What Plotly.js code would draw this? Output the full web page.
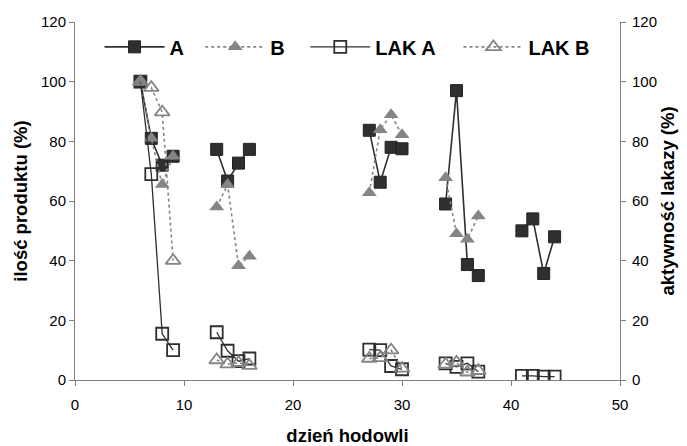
<!DOCTYPE html>
<html>
<head>
<meta charset="utf-8">
<script src="https://cdn.plot.ly/plotly-3.0.1.min.js"></script>
<style>html,body{margin:0;padding:0;background:#fff;}#chart{width:687px;height:446px;}</style>
</head>
<body>
<div id="chart"></div>
<script>
// days of culture; null separates independent runs
const days = [6,7,8,9,null,13,14,15,16,null,27,28,29,30,null,34,35,36,37,null,41,42,43,44];
const seriesA = [100,81,72,75,null,77.3,66.7,72.7,77.3,null,83.7,66.3,78,77.5,null,59,97,38.7,35,null,50,54,35.7,48];
const seriesB = [100,81,65.5,75,null,58,65.5,38.3,41.5,null,62.8,83.9,88.9,82.2,null,67.8,49,47.2,55,null,null,null,null,null];
const lakA = [100,69,15.5,10,null,16,9.8,6.3,7.2,null,10.2,10,4.7,3.6,null,5.6,4.4,5.6,2.8,null,1.4,1.4,1.1,1.1];
const lakB = [100,98,89.8,40,null,6.7,5.3,5.8,4.8,null,7.2,7.4,10,3.9,null,5.2,5.9,2.6,3.1,null,null,null,null,null];
const names = ['A','B','LAK A','LAK B'];
const tickVals = [0,20,40,60,80,100,120];
const xTickVals = [0,10,20,30,40,50];

const dark = '#2f2f2f', gray = '#858585';
const traces = [
  {x: days, y: seriesA, name: names[0], legend: 'legend', mode: 'lines+markers', connectgaps: false,
   line: {color: dark, width: 1.6}, marker: {symbol: 'square', size: 12, color: dark, line: {color: '#222', width: 1}}},
  {x: days, y: seriesB, name: names[1], legend: 'legend2', mode: 'lines+markers', connectgaps: false,
   line: {color: gray, width: 1.6, dash: 'dot'}, marker: {symbol: 'triangle-up', size: 13, color: gray, line: {color: gray, width: 0}}},
  {x: days, y: lakA, name: names[2], legend: 'legend3', mode: 'lines+markers', connectgaps: false, yaxis: 'y2',
   line: {color: dark, width: 1.3}, marker: {symbol: 'square-open', size: 12, color: dark, line: {color: dark, width: 1.8}}},
  {x: days, y: lakB, name: names[3], legend: 'legend4', mode: 'lines+markers', connectgaps: false, yaxis: 'y2',
   line: {color: gray, width: 1.6, dash: 'dot'}, marker: {symbol: 'triangle-up-open', size: 13, color: gray, line: {color: gray, width: 1.8}}}
];

const font = {family: 'Liberation Sans, Arial, sans-serif', color: '#000'};
const axisCommon = {showgrid: false, zeroline: false, showline: true, linecolor: '#808080', linewidth: 1,
  ticks: 'outside', ticklen: 5, tickcolor: '#808080', tickfont: {family: font.family, size: 15, color: '#000'}};
const titleFont = {family: font.family, size: 18.5, color: '#000', weight: 'bold'};
function mkLegend(x) {
  return {orientation: 'h', x: x, y: 0.985, xanchor: 'left', yanchor: 'top',
    itemwidth: 60, bgcolor: 'rgba(255,255,255,0)',
    font: {family: font.family, size: 20, color: '#000', weight: 'bold'}};
}
const layout = {
  width: 687, height: 446,
  margin: {l: 75, r: 67, t: 22, b: 66},
  paper_bgcolor: '#fff', plot_bgcolor: '#fff',
  font: font,
  showlegend: true,
  legend: mkLegend(0.045),
  legend2: mkLegend(0.2297),
  legend3: mkLegend(0.4225),
  legend4: mkLegend(0.7036),
  xaxis: Object.assign({range: [0, 50], tickvals: xTickVals, ticklabelstandoff: 6,
    title: {text: 'dzień hodowli', font: titleFont, standoff: 17}}, axisCommon),
  yaxis: Object.assign({range: [0, 120], tickvals: tickVals,
    title: {text: 'ilość produktu (%)', font: titleFont, standoff: 8}}, axisCommon),
  yaxis2: Object.assign({range: [0, 120], tickvals: tickVals, overlaying: 'y', side: 'right', ticklabelstandoff: 3,
    title: {text: 'aktywność lakazy (%)', font: titleFont, standoff: 5}}, axisCommon)
};
Plotly.newPlot('chart', traces, layout, {displayModeBar: false, staticPlot: true});
</script>
</body>
</html>
